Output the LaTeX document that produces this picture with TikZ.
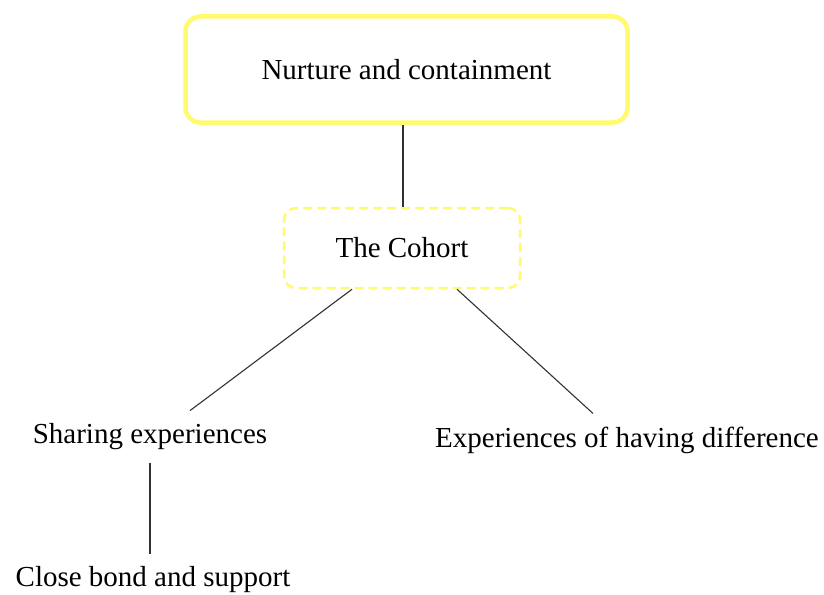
\documentclass[tikz,border=0pt]{standalone}
\usepackage{fontspec}
\setmainfont{Liberation Serif}
\usetikzlibrary{calc}
\definecolor{boxyellow}{RGB}{255,250,110}
\definecolor{linegray}{RGB}{50,50,50}
\tikzset{
  label text/.style={font=\fontsize{29}{34}\selectfont, text=black, inner xsep=2pt, inner ysep=13pt},
  mainbox/.style={draw=boxyellow, line width=4.5pt, rounded corners=15pt, minimum width=442pt, minimum height=106pt, font=\fontsize{29}{34}\selectfont},
  cohortbox/.style={draw=boxyellow, line width=2.5pt, dash pattern=on 9pt off 5pt, rounded corners=12pt, minimum width=236pt, minimum height=80pt, font=\fontsize{29}{34}\selectfont},
  link/.style={draw=linegray, line width=1.1pt}
}
\begin{document}
\begin{tikzpicture}[x=1pt,y=-1pt]
  \useasboundingbox[fill=white] (0,0) rectangle (824,594);
  % hierarchy nodes
  \node[mainbox] (nurture) at (406.5,69.5) {Nurture and containment};
  \node[cohortbox] (cohort) at (402,248) {The Cohort};
  \node[label text] (share) at (150,437) {Sharing experiences};
  \node[label text] (diff) at (627,440) {Experiences of having difference};
  \node[label text] (bond) at (153,580) {Close bond and support};
  % connectors
  \draw[link] (nurture.south -| 403,0) -- (cohort.north -| 403,0);
  \draw[link] ($(cohort.south)+(-50,0)$) -- ($(share.north)+(40,0)$);
  \draw[link] ($(cohort.south)+(55,0)$) -- ($(diff.north)+(-34,0)$);
  \draw[link] (share.south -| 150,0) -- (bond.north -| 150,0);
\end{tikzpicture}
\end{document}
